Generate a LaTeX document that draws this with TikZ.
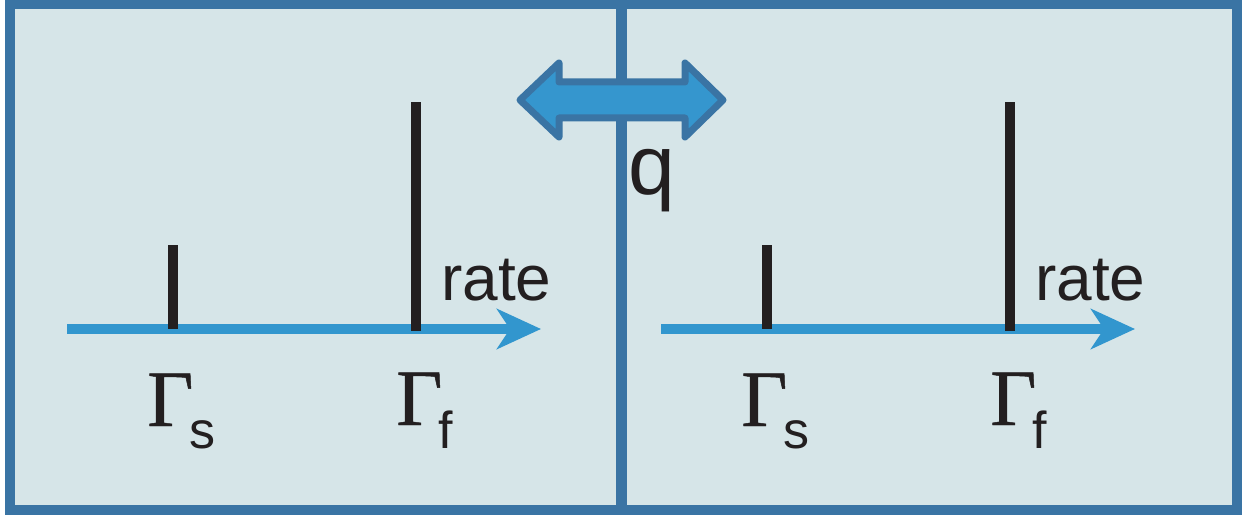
\documentclass[tikz,border=0pt]{standalone}
\usepackage{fontspec}
\setmainfont{Liberation Sans}
\newfontfamily\serifG[FakeBold=0.6]{Liberation Serif}
\usetikzlibrary{arrows.meta}
\definecolor{frame}{HTML}{3A74A4}
\definecolor{panel}{HTML}{D6E5E8}
\definecolor{axisblue}{HTML}{3296CE}
\definecolor{arrowfill}{HTML}{3596CE}
\definecolor{ink}{HTML}{231F20}
\newcommand{\gsub}[1]{{\serifG\fontsize{80}{80}\selectfont Γ}\kern-4pt\raisebox{-23pt}{\fontsize{52}{52}\selectfont #1}}
\begin{document}
\begin{tikzpicture}[x=1pt,y=-1pt,
  axisline/.style={draw=axisblue,line width=10pt,-{Stealth[length=44pt,width=40pt,inset=13pt]}},
  tickline/.style={draw=ink,line width=10.5pt},
  lbl/.style={inner sep=0pt,anchor=base west,text=ink},
  ratelbl/.style={lbl,font=\fontsize{64}{64}\selectfont}]
\useasboundingbox (0,0) rectangle (1245,518);
% frame
\draw[draw=frame,fill=panel,line width=10pt] (9.5,4) rectangle (1236.5,510);
\coordinate (dtop) at (621.5,4);
\coordinate (dbot) at (621.5,510);
\draw[draw=frame,line width=11pt] (dtop) -- (dbot);
% panels
\foreach \dx/\p in {0/L,594/R}{
  \begin{scope}[xshift=\dx pt]
    \coordinate (a0\p) at (67,329);
    \coordinate (a1\p) at (541,329);
    \draw[axisline] (a0\p) -- (a1\p);
    \coordinate (s0\p) at (173,329);
    \coordinate (s1\p) at (173,245);
    \draw[tickline] (s0\p) -- (s1\p);
    \coordinate (f0\p) at (416,331);
    \coordinate (f1\p) at (416,102);
    \draw[tickline] (f0\p) -- (f1\p);
    \node[ratelbl] (rate\p) at (441,301) {rate};
    \node[lbl] (gs\p) at (147,426) {\gsub{s}};
    \node[lbl] (gf\p) at (396,425) {\gsub{f}};
  \end{scope}
}
% exchange arrow
\draw[draw=frame,fill=arrowfill,line width=7pt,line join=round]
  (520,100) -- (559,63) -- (559,82) -- (685,82) -- (685,63) -- (723,100)
  -- (685,137) -- (685,118) -- (559,118) -- (559,137) -- cycle;
\node[lbl,font=\fontsize{84}{84}\selectfont] (q) at (628,195) {q};
\end{tikzpicture}
\end{document}
